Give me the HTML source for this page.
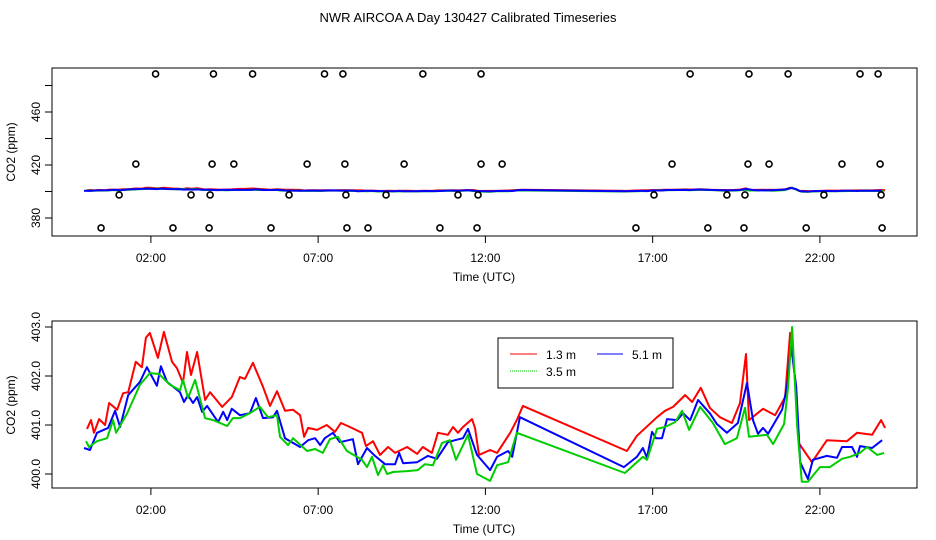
<!DOCTYPE html>
<html><head><meta charset="utf-8"><style>
html,body{margin:0;padding:0;background:#fff;}
svg{display:block;font-family:"Liberation Sans",sans-serif;}
</style></head><body>
<svg id="chart" width="936" height="540" viewBox="0 0 936 540">
<text x="468" y="22" font-size="13" text-anchor="middle">NWR AIRCOA A  Day 130427  Calibrated Timeseries</text>
<rect x="52" y="68" width="865" height="168" fill="none" stroke="#000"/>
<rect x="52" y="321" width="865" height="167" fill="none" stroke="#000"/>
<text transform="translate(15,152) rotate(-90)" font-size="12" text-anchor="middle">CO2 (ppm)</text>
<text transform="translate(15,405) rotate(-90)" font-size="12" text-anchor="middle">CO2 (ppm)</text>
<text x="484" y="281" font-size="12" text-anchor="middle">Time (UTC)</text>
<text x="484" y="533" font-size="12" text-anchor="middle">Time (UTC)</text>
<g id="axes"></g>
<g id="series"></g>
<g>
<rect x="498" y="338" width="175" height="50" fill="#fff" stroke="#000"/>
<line x1="510" y1="354" x2="537" y2="354" stroke="#f00"/>
<text x="546" y="359" font-size="12">1.3 m</text>
<line x1="597" y1="354" x2="623" y2="354" stroke="#00f"/>
<text x="632" y="359" font-size="12">5.1 m</text>
<line x1="510" y1="371" x2="537" y2="371" stroke="#0c0" stroke-dasharray="1,1"/>
<text x="546" y="376" font-size="12">3.5 m</text>
</g>
</svg>
<script>
const xTickHours=[2,7,12,17,22];
const xTickLabels=["02:00","07:00","12:00","17:00","22:00"];
const topYTicks=[380,400,420,440,460,480];
const topYLabels=["380","","420","","460",""];
const botYTicks=[400,401,402,403];
const botYLabels=["400.0","401.0","402.0","403.0"];
const redH=[0.09,0.21,0.30,0.45,0.63,0.75,0.99,1.17,1.32,1.55,1.73,1.85,1.97,2.21,2.39,2.63,2.78,2.96,3.08,3.20,3.38,3.62,3.77,4.13,4.42,4.66,4.81,5.05,5.35,5.56,5.77,6.01,6.25,6.46,6.58,6.70,6.97,7.26,7.50,7.68,7.95,8.31,8.43,8.64,8.85,9.09,9.30,9.66,9.96,10.13,10.40,10.58,10.88,11.03,11.18,11.33,11.60,11.69,11.81,12.14,12.35,12.74,12.94,13.12,16.23,16.53,17.13,17.37,17.61,17.97,18.18,18.44,18.71,19.01,19.37,19.61,19.79,19.88,20.30,20.66,20.96,21.11,21.26,21.37,21.76,22.21,22.81,23.11,23.56,23.83,23.95];
const redV=[400.92,401.10,400.84,401.12,401.00,401.45,401.31,401.65,401.67,402.29,402.18,402.78,402.88,402.37,402.90,402.29,402.16,401.86,402.49,402.02,402.49,401.51,401.67,401.37,401.57,401.98,401.94,402.27,401.78,401.39,401.69,401.29,401.31,401.20,400.76,400.94,400.90,401.00,400.86,401.04,400.96,400.84,400.57,400.67,400.39,400.55,400.43,400.55,400.41,400.55,400.43,400.84,400.80,400.96,400.84,400.96,401.12,400.94,400.39,400.49,400.43,400.84,401.10,401.39,400.47,400.78,401.16,401.29,401.37,401.61,401.47,401.76,401.35,401.16,401.04,401.45,402.45,401.10,401.33,401.20,401.57,402.88,401.92,400.63,400.24,400.69,400.67,400.84,400.80,401.10,400.94];
const greenH=[0.06,0.15,0.39,0.69,0.87,0.96,1.29,1.67,1.97,2.24,2.57,2.87,2.96,3.11,3.32,3.62,3.86,4.28,4.45,4.66,4.96,5.26,5.50,5.77,5.86,6.10,6.25,6.67,6.91,7.14,7.35,7.59,7.86,8.31,8.46,8.61,8.79,8.94,9.06,9.24,9.66,9.98,10.19,10.43,10.70,10.94,11.12,11.48,11.75,12.14,12.35,12.68,12.94,16.17,16.53,16.71,16.83,17.13,17.37,17.67,17.88,18.09,18.42,18.80,19.16,19.52,19.76,19.88,20.42,20.60,20.93,21.05,21.17,21.32,21.46,21.64,22.00,22.30,22.66,22.90,23.20,23.41,23.71,23.92];
const greenV=[400.67,400.55,400.67,400.73,401.10,400.84,401.24,401.82,402.06,402.04,401.82,401.71,401.92,401.55,401.92,401.14,401.10,400.98,401.14,401.14,401.24,401.37,401.16,401.20,400.76,400.59,400.73,400.47,400.51,400.43,400.71,400.76,400.47,400.29,400.14,400.35,399.98,400.18,400.00,400.04,400.06,400.08,400.20,400.18,400.63,400.69,400.29,400.80,400.00,399.86,400.18,400.24,400.84,400.02,400.24,400.35,400.29,400.92,400.96,401.06,401.29,400.90,401.37,401.04,400.61,400.73,401.35,400.76,400.80,400.61,401.02,401.78,403.00,400.96,399.84,399.84,400.14,400.14,400.31,400.35,400.43,400.55,400.39,400.43];
const blueH=[0.0,0.18,0.39,0.72,0.93,1.08,1.32,1.67,1.88,2.18,2.30,2.48,2.87,2.99,3.11,3.26,3.38,3.53,3.68,4.01,4.16,4.28,4.42,4.66,4.96,5.14,5.35,5.65,5.77,6.01,6.46,6.70,6.91,7.06,7.20,7.44,7.65,8.04,8.19,8.46,8.70,9.00,9.30,9.42,9.54,9.96,10.28,10.55,10.88,11.09,11.33,11.48,11.75,12.14,12.35,12.68,12.80,13.03,16.14,16.53,16.71,16.83,16.98,17.10,17.28,17.43,17.73,17.91,18.12,18.36,18.71,18.92,19.22,19.55,19.82,20.00,20.15,20.30,20.45,20.87,21.02,21.14,21.29,21.41,21.64,21.79,22.21,22.51,22.66,22.96,23.11,23.20,23.56,23.86];
const blueV=[400.53,400.49,400.84,400.94,401.29,400.96,401.61,401.88,402.18,401.80,402.20,401.88,401.67,401.47,401.61,401.45,401.57,401.27,401.39,401.06,401.27,401.10,401.33,401.20,401.24,401.55,401.14,401.16,401.29,400.73,400.55,400.69,400.73,400.59,400.73,400.84,400.65,400.71,400.20,400.53,400.37,400.20,400.20,400.43,400.22,400.24,400.37,400.31,400.65,400.69,400.73,400.92,400.39,400.08,400.35,400.47,400.35,401.16,400.14,400.35,400.53,400.33,400.86,400.73,400.73,401.12,401.10,401.24,401.10,401.51,401.24,401.02,400.84,401.04,401.86,401.10,400.82,400.94,400.82,401.31,401.78,402.63,401.78,400.24,399.90,400.29,400.37,400.33,400.55,400.55,400.35,400.57,400.53,400.69];
const pointH=[2.14,3.87,5.04,7.19,7.74,10.13,11.87,18.12,19.88,21.05,23.20,23.74,1.55,3.83,4.48,6.67,7.80,9.57,11.87,12.50,17.58,19.85,20.48,22.66,23.80,1.05,3.20,3.77,6.13,7.83,9.03,11.18,11.78,17.04,19.22,19.76,22.12,23.83,0.51,2.66,3.74,5.59,7.86,8.49,10.64,11.75,16.50,18.65,19.73,21.59,23.86];
const pointV=[488.7,488.7,488.7,488.7,488.7,488.7,488.7,488.7,488.7,488.7,488.7,488.7,420.7,420.7,420.7,420.7,420.7,420.7,420.7,420.7,420.7,420.7,420.7,420.7,420.7,397.4,397.4,397.4,397.4,397.4,397.4,397.4,397.4,397.4,397.4,397.4,397.4,397.4,372.5,372.5,372.5,372.5,372.5,372.5,372.5,372.5,372.5,372.5,372.5,372.5,372.5];

const NS="http://www.w3.org/2000/svg";
function xs(h){return 84+h*33.45;}
function yTop(v){return 218-(v-380)*1.325;}
function yBot(v){return 474-(v-400)*49;}
const axes=document.getElementById('axes');
const ser=document.getElementById('series');
function mk(tag,attrs,parent){const e=document.createElementNS(NS,tag);for(const k in attrs)e.setAttribute(k,attrs[k]);parent.appendChild(e);return e;}

[[236,262],[488,514]].forEach(([base,ly],pi)=>{
  xTickHours.forEach((h,i)=>{
    const t=mk('line',{x1:xs(h),x2:xs(h),y1:base,y2:base+7,stroke:'#000'},axes);
    
    
    const tx=mk('text',{x:xs(h),y:ly,'font-size':12,'text-anchor':'middle'},axes);
    tx.textContent=xTickLabels[i];
    
    
  });
});
topYTicks.forEach((v,i)=>{
  const y=yTop(v);
  const t=mk('line',{x1:45,x2:52,y1:y,y2:y,stroke:'#000'},axes);
  
  
  if(topYLabels[i]){
    const tx=mk('text',{transform:`translate(40,${y}) rotate(-90)`,'font-size':12,'text-anchor':'middle'},axes);
    tx.textContent=topYLabels[i];
    
    
  }
});
botYTicks.forEach((v,i)=>{
  const y=yBot(v);
  const t=mk('line',{x1:45,x2:52,y1:y,y2:y,stroke:'#000'},axes);
  
  
  const tx=mk('text',{transform:`translate(40,${y}) rotate(-90)`,'font-size':12,'text-anchor':'middle'},axes);
  tx.textContent=botYLabels[i];
  
  
});
function line(H,V,yf,col,dash,name){
  const d=H.map((h,i)=>(i?'L':'M')+xs(h).toFixed(1)+','+yf(V[i]).toFixed(1)).join('');
  const p=mk('path',{d:d,fill:'none',stroke:col,'stroke-width':2,'stroke-linejoin':'round'},ser);
  if(dash)p.setAttribute('stroke-dasharray',dash);
  
  
}
line(redH,redV,yTop,'#f00',null,'top-series-1.3m');
line(greenH,greenV,yTop,'#0c0',null,'top-series-3.5m');
line(blueH,blueV,yTop,'#00f',null,'top-series-5.1m');
line(redH,redV,yBot,'#f00',null,'series-1.3m');
line(blueH,blueV,yBot,'#00f',null,'series-5.1m');
line(greenH,greenV,yBot,'#0c0',null,'series-3.5m');
pointH.forEach((h,i)=>{
  const c=mk('circle',{cx:xs(h),cy:yTop(pointV[i]),r:3,fill:'none',stroke:'#000','stroke-width':1.6},ser);
  
  
});
</script>
</body></html>
